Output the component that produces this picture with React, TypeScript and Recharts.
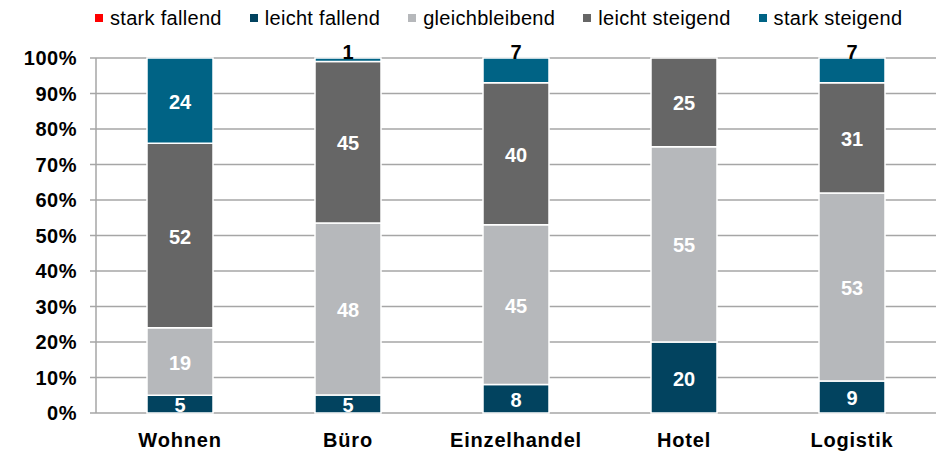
import React from "react";
import {
  BarChart,
  Bar,
  XAxis,
  YAxis,
  CartesianGrid,
  Legend,
  LabelList,
} from "recharts";

// Erwartete Entwicklung je Nutzungsart (Anteile in %)
const categories = ["Wohnen", "Büro", "Einzelhandel", "Hotel", "Logistik"];
const starkFallend = [0, 0, 0, 0, 0];
const leichtFallend = [5, 5, 8, 20, 9];
const gleichbleibend = [19, 48, 45, 55, 53];
const leichtSteigend = [52, 45, 40, 25, 31];
const starkSteigend = [24, 1, 7, 0, 7];

const yTicks = [0, 0.1, 0.2, 0.3, 0.4, 0.5, 0.6, 0.7, 0.8, 0.9, 1];
const separatorTicks = [0, 1, 2, 3, 4, 5];

const data = categories.map((name, i) => ({
  name,
  starkFallend: starkFallend[i],
  leichtFallend: leichtFallend[i],
  gleichbleibend: gleichbleibend[i],
  leichtSteigend: leichtSteigend[i],
  starkSteigend: starkSteigend[i],
}));

const series = [
  { key: "starkFallend", name: "stark fallend", color: "#ff0000" },
  { key: "leichtFallend", name: "leicht fallend", color: "#02435f" },
  { key: "gleichbleibend", name: "gleichbleibend", color: "#b6b8bb" },
  { key: "leichtSteigend", name: "leicht steigend", color: "#666666" },
  { key: "starkSteigend", name: "stark steigend", color: "#006385" },
];

const FONT = "'Liberation Sans', Arial, sans-serif";

function makeLabel(isTop: boolean) {
  return (props: any) => {
    const { x, y, width, height, value } = props;
    if (!value) return null;
    const cx = Number(x) + Number(width) / 2;
    if (isTop && value < 10) {
      return (
        <text
          x={cx}
          y={Number(y) - 6}
          textAnchor="middle"
          dominantBaseline="central"
          fontSize={20}
          fontWeight={700}
          fill="#000"
          fontFamily={FONT}
        >
          {value}
        </text>
      );
    }
    return (
      <text
        x={cx}
        y={Number(y) + Number(height) / 2 + 1}
        textAnchor="middle"
        dominantBaseline="central"
        fontSize={20}
        fontWeight={700}
        fill="#fff"
        fontFamily={FONT}
      >
        {value}
      </text>
    );
  };
}

// legend keeps the series order (recharts would sort it by name)
function LegendContent() {
  return (
    <div
      style={{
        display: "flex",
        alignItems: "center",
        height: 36,
        paddingLeft: 95,
        fontFamily: FONT,
        fontSize: 20,
        letterSpacing: 0.3,
        color: "#000",
      }}
    >
      {series.map((s) => (
        <div
          key={s.key}
          style={{ display: "flex", alignItems: "center", marginRight: 28 }}
        >
          <span
            style={{
              display: "inline-block",
              width: 8,
              height: 8,
              background: s.color,
              marginRight: 7,
            }}
          />
          <span>{s.name}</span>
        </div>
      ))}
    </div>
  );
}

export default function App() {
  return (
    <div style={{ width: 939, height: 453, background: "#fff" }}>
      <style>{"body{margin:0}"}</style>
      <BarChart
        width={939}
        height={453}
        data={data}
        stackOffset="expand"
        margin={{ top: 22, right: 3, bottom: 10, left: 0 }}
        style={{ fontFamily: FONT }}
      >
        <CartesianGrid
          vertical={false}
          stroke="#a6a6a6"
          strokeWidth={1.5}
        />
        <XAxis
          xAxisId="sep"
          type="number"
          domain={[0, 5]}
          ticks={separatorTicks}
          tick={false}
          tickSize={6}
          height={0}
          axisLine={{ stroke: "#a6a6a6", strokeWidth: 1.5 }}
          tickLine={{ stroke: "#a6a6a6", strokeWidth: 1.5 }}
        />
        <XAxis
          xAxisId="cat"
          dataKey="name"
          axisLine={false}
          tickLine={false}
          tickSize={0}
          tickMargin={20}
          height={30}
          tick={{
            fontSize: 20,
            fontWeight: 700,
            fill: "#000",
            letterSpacing: 0.8,
          }}
        />
        <YAxis
          width={96}
          domain={[0, 1]}
          ticks={yTicks}
          tickFormatter={(v: number) => `${Math.round(v * 100)}%`}
          tickSize={6}
          tickMargin={13}
          axisLine={{ stroke: "#a6a6a6", strokeWidth: 1.5 }}
          tickLine={{ stroke: "#a6a6a6", strokeWidth: 1.5 }}
          tick={{
            fontSize: 20,
            fontWeight: 700,
            fill: "#000",
            letterSpacing: 0.5,
          }}
        />
        <Legend
          verticalAlign="top"
          align="left"
          wrapperStyle={{ top: 0, left: 0 }}
          content={<LegendContent />}
        />
        {series.map((s) => (
          <Bar
            key={s.key}
            xAxisId="cat"
            dataKey={s.key}
            name={s.name}
            stackId="a"
            fill={s.color}
            stroke="#fff"
            strokeWidth={1.5}
            barSize={66}
            isAnimationActive={false}
          >
            <LabelList
              dataKey={s.key}
              content={makeLabel(s.key === "starkSteigend")}
            />
          </Bar>
        ))}
      </BarChart>
    </div>
  );
}
